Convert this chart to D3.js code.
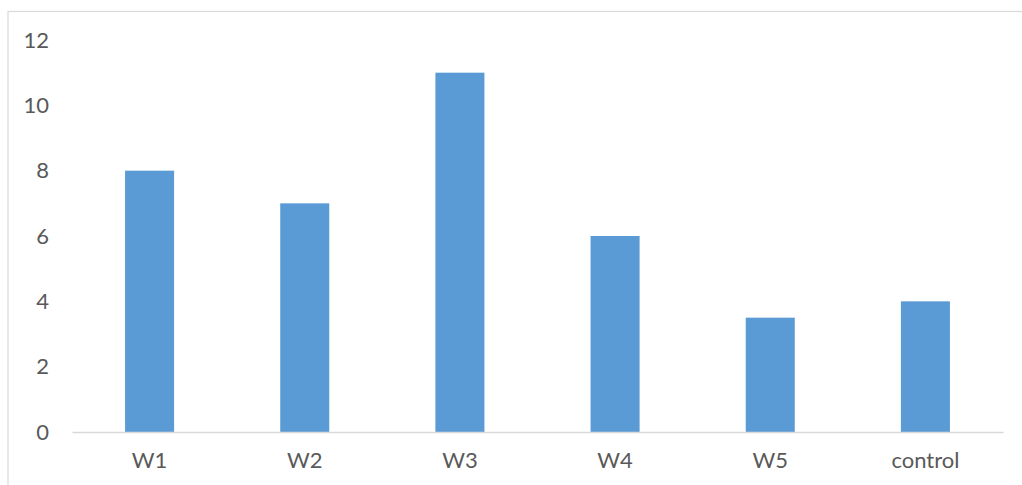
<!DOCTYPE html>
<html>
<head>
<meta charset="utf-8">
<script src="https://cdn.jsdelivr.net/npm/d3@7"></script>
<style>
  html, body { margin: 0; padding: 0; background: #fff; }
  svg { display: block; }
  text { font-family: Lato, "Open Sans", sans-serif; fill: #595959; }
</style>
</head>
<body>
<svg id="chart" width="1022" height="485"></svg>
<script>
// Sample groups and their measured values
const categories = ["W1", "W2", "W3", "W4", "W5", "control"];
const values = [8, 7, 11, 6, 3.5, 4];
const yTicks = [0, 2, 4, 6, 8, 10, 12];

const svg = d3.select("#chart");
const W = 1022, H = 485;
const plot = { left: 72, right: 1003, top: 40, bottom: 432 };

// Chart frame (runs past the right and bottom edges of the view)
svg.append("rect")
  .attr("x", 8).attr("y", 11.5)
  .attr("width", W + 20).attr("height", H + 20)
  .attr("fill", "none").attr("stroke", "#d9d9d9").attr("stroke-width", 1.2);

const x = d3.scaleBand()
  .domain(categories)
  .range([plot.left, plot.right])
  .paddingInner(0.684)
  .paddingOuter(0.342);

const y = d3.scaleLinear().domain([0, 12]).range([plot.bottom, plot.top]);

// Bars
svg.append("g").selectAll("rect")
  .data(categories.map((c, i) => ({ c, v: values[i] })))
  .join("rect")
  .attr("x", d => x(d.c))
  .attr("y", d => y(d.v))
  .attr("width", x.bandwidth())
  .attr("height", d => y(0) - y(d.v))
  .attr("fill", "#5b9bd5");

// Category axis: baseline and labels
const xAxis = svg.append("g")
  .attr("transform", `translate(0,${plot.bottom})`)
  .call(d3.axisBottom(x).tickSize(0).tickPadding(20));
xAxis.select(".domain").attr("stroke", "#d9d9d9").attr("stroke-width", 1.5);
xAxis.selectAll("text")
  .attr("font-size", 22)
  .attr("font-family", "Lato, 'Open Sans', sans-serif")
  .attr("fill", "#595959");

// Value axis: labels only
const yAxis = svg.append("g")
  .attr("transform", `translate(${plot.left},0)`)
  .call(d3.axisLeft(y).tickValues(yTicks).tickSize(0).tickPadding(23));
yAxis.select(".domain").remove();
yAxis.selectAll("text")
  .attr("font-size", 22)
  .attr("font-family", "Lato, 'Open Sans', sans-serif")
  .attr("fill", "#595959");
</script>
</body>
</html>
